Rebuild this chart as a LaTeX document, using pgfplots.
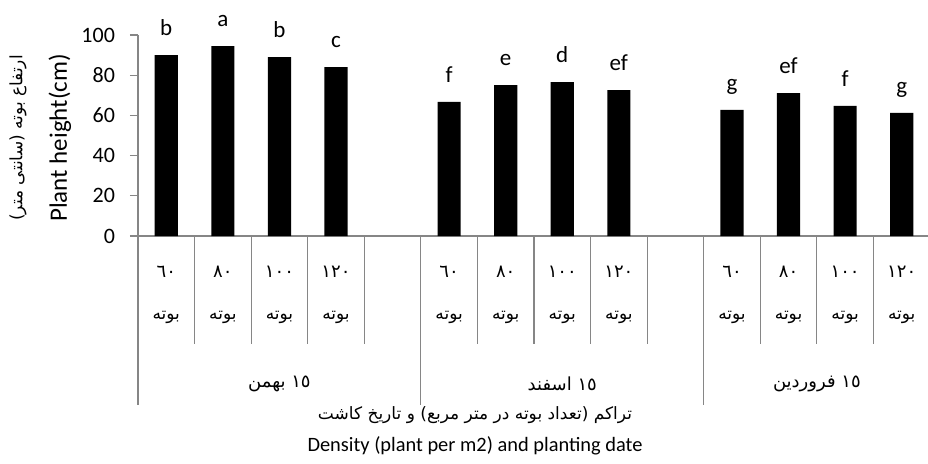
\documentclass[border=0pt]{standalone}
\usepackage{fontspec}
\setmainfont{Carlito}
\newfontfamily\fa[Script=Arabic]{DejaVu Sans}
\TeXXeTstate=1
\usepackage{pgfplots}
\pgfplotsset{compat=1.18}
\definecolor{axgray}{RGB}{134,134,134}

\begin{document}
\begin{tikzpicture}[x=1pt,y=1pt]
\useasboundingbox (0,0) rectangle (464,231.5);
\begin{axis}[
  at={(69pt,113.5pt)}, anchor=south west,
  scale only axis, width=396pt, height=100.5pt,
  xmin=0.5, xmax=14.5, ymin=0, ymax=100,
  axis x line*=bottom, axis y line*=left,
  axis line style={draw=axgray, line width=0.6pt},
  xtick=\empty,
  ytick={0,20,40,60,80,100},
  tick align=outside, major tick length=4pt,
  tick style={draw=axgray, line width=0.6pt},
  yticklabel style={font=\fontsize{11}{13}\selectfont, xshift=-4pt},
  /pgf/number format/assume math mode=true,
  clip=false,
  ybar, bar width=0.41,
]
\addplot[fill=black, draw=none,
  nodes near coords, point meta=explicit symbolic,
  nodes near coords style={font=\fontsize{11.5}{14}\selectfont, inner sep=0pt, text depth=0pt, anchor=south, yshift=9.5pt}]
  coordinates {
  (1,90)[b] (2,94.5)[a] (3,89)[b] (4,84)[c]
  (6,66.7)[f] (7,75.1)[e] (8,76.6)[d] (9,72.6)[ef]
  (11,62.7)[g] (12,71.1)[ef] (13,64.7)[f] (14,61.2)[g]
  };
\pgfplotsinvokeforeach{1.5,2.5,3.5,4.5,6.5,7.5,8.5,9.5,11.5,12.5,13.5}{
  \draw[axgray, line width=0.6pt] (axis cs:#1,0) -- ++(0pt,-54pt);
}
\pgfplotsinvokeforeach{0.5,5.5,10.5,14.5}{
  \draw[axgray, line width=0.6pt] (axis cs:#1,0) -- ++(0pt,-84.5pt);
}
\pgfplotsinvokeforeach{1,6,11}{
  \node[font=\fa\fontsize{9}{11}\selectfont] at ([yshift=-18pt]axis cs:#1,0) {٦٠};
}
\pgfplotsinvokeforeach{2,7,12}{
  \node[font=\fa\fontsize{9}{11}\selectfont] at ([yshift=-18pt]axis cs:#1,0) {٨٠};
}
\pgfplotsinvokeforeach{3,8,13}{
  \node[font=\fa\fontsize{9}{11}\selectfont] at ([yshift=-18pt]axis cs:#1,0) {١٠٠};
}
\pgfplotsinvokeforeach{4,9,14}{
  \node[font=\fa\fontsize{9}{11}\selectfont] at ([yshift=-18pt]axis cs:#1,0) {١٢٠};
}
\pgfplotsinvokeforeach{1,2,3,4,6,7,8,9,11,12,13,14}{
  \node[font=\fa\fontsize{8.5}{10}\selectfont] at ([yshift=-40.5pt]axis cs:#1,0) {\beginR بوته\endR};
}
\node[font=\fa\fontsize{9}{11}\selectfont] at ([yshift=-74pt]axis cs:3,0) {\beginR ١٥ بهمن\endR};
\node[font=\fa\fontsize{9}{11}\selectfont] at ([yshift=-74pt]axis cs:8,0) {\beginR ١٥ اسفند\endR};
\node[font=\fa\fontsize{9}{11}\selectfont] at ([yshift=-74pt]axis cs:12.5,0) {\beginR ١٥ فروردین\endR};
\end{axis}
\node[font=\fa\fontsize{8.5}{10}\selectfont] at (237.5,24) {\beginR تراکم (تعداد بوته در متر مربع) و تاریخ کاشت\endR};
\node[font=\fontsize{10.2}{12}\selectfont] at (237.5,8.5) {Density (plant per m2) and planting date};
\node[font=\fontsize{12.5}{14}\selectfont, rotate=90] at (30,162.5) {Plant height(cm)};
\node[font=\fa\fontsize{8.5}{10}\selectfont, rotate=90] at (9,162.5) {\beginR ارتفاع بوته (سانتی متر)\endR};
\end{tikzpicture}
\end{document}
